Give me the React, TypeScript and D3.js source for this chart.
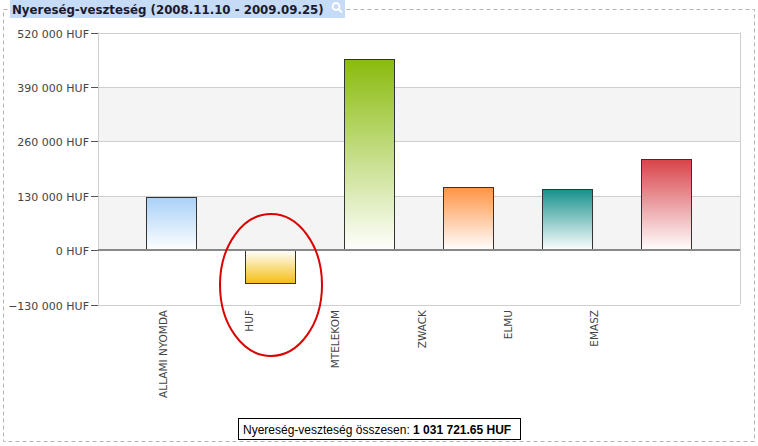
import React, { useEffect, useRef } from 'react';
import * as d3 from 'd3';

const categories = ['ALLAMI NYOMDA', 'HUF', 'MTELEKOM', 'ZWACK', 'ELMU', 'EMASZ'];
const values = [126000, -78500, 457000, 150000, 145000, 217000];
const barColors = ['#a9d1f7', '#f5bd10', '#8abb0e', '#ff9444', '#16918c', '#d8434a'];
const yTicks = [-130000, 0, 130000, 260000, 390000, 520000];
const titleText = 'Nyereség-veszteség (2008.11.10 - 2009.09.25)';
const totalLabel = 'Nyereség-veszteség összesen: ';
const totalValue = '1 031 721.65 HUF';

const W = 758;
const H = 446;

const fmt = (v: number) => d3.format(',')(v).replace(/,/g, ' ') + ' HUF';

const App: React.FC = () => {
  const svgRef = useRef<SVGSVGElement | null>(null);

  useEffect(() => {
    if (!svgRef.current) return;
    const svg = d3.select(svgRef.current);
    svg.selectAll('*').remove();

    const plot = { left: 98, right: 740, top: 32.5, bottom: 304.5 };

    const y = d3.scaleLinear().domain([-130000, 520000]).range([plot.bottom, plot.top]);
    // bars and labels are not aligned in the original, so two scales
    const x = d3.scaleBand<string>().domain(categories).range([121.5, 715.5]).paddingInner(0.495).paddingOuter(0.2475);
    const xl = d3.scalePoint<string>().domain(categories).range([163, 594]);

    // outer dashed frame
    svg.append('rect')
      .attr('x', 3.5).attr('y', 9.5).attr('width', 751).attr('height', 432)
      .attr('fill', 'none').attr('stroke', '#b4b4b4').attr('stroke-dasharray', '4,3');

    // title legend
    svg.append('rect').attr('x', 10).attr('y', 0).attr('width', 335).attr('height', 18).attr('fill', '#c6dbf5');
    svg.append('text')
      .attr('x', 12).attr('y', 14)
      .attr('font-family', 'DejaVu Sans').attr('font-weight', 'bold').attr('font-size', 11.8)
      .attr('fill', '#1a1a2e').text(titleText);
    const mag = svg.append('g').attr('transform', 'translate(336,6.5)');
    mag.append('circle').attr('r', 3.5).attr('fill', 'none').attr('stroke', '#ffffff').attr('stroke-width', 1.8);
    mag.append('line').attr('x1', 2.5).attr('y1', 2.5).attr('x2', 6).attr('y2', 6).attr('stroke', '#ffffff').attr('stroke-width', 2);

    // grey bands
    [[260000, 390000], [0, 130000]].forEach(([a, b]) => {
      svg.append('rect')
        .attr('x', plot.left).attr('y', y(b)).attr('width', plot.right - plot.left).attr('height', y(a) - y(b))
        .attr('fill', '#f4f4f4');
    });

    // gridlines + ticks + labels
    yTicks.forEach((t) => {
      const yy = Math.round(y(t)) + 0.5;
      if (t !== 0) {
        svg.append('line').attr('x1', plot.left).attr('x2', plot.right).attr('y1', yy).attr('y2', yy)
          .attr('stroke', '#cfcfcf');
      }
      svg.append('line').attr('x1', 91).attr('x2', plot.left).attr('y1', yy).attr('y2', yy).attr('stroke', '#555');
      svg.append('text')
        .attr('x', 89).attr('y', yy + 4).attr('text-anchor', 'end')
        .attr('font-family', 'DejaVu Sans').attr('font-size', 11).attr('fill', '#444')
        .text(fmt(t));
    });
    svg.append('line').attr('x1', plot.left + 0.5).attr('x2', plot.left + 0.5).attr('y1', plot.top).attr('y2', plot.bottom)
      .attr('stroke', '#cfcfcf');
    svg.append('line').attr('x1', plot.right + 0.5).attr('x2', plot.right + 0.5).attr('y1', plot.top).attr('y2', plot.bottom)
      .attr('stroke', '#cfcfcf');

    // gradients
    const defs = svg.append('defs');
    values.forEach((v, i) => {
      const g = defs.append('linearGradient').attr('id', `grad${i}`).attr('x1', 0).attr('y1', 0).attr('x2', 0).attr('y2', 1);
      const c0 = v >= 0 ? barColors[i] : '#ffffff';
      const c1 = v >= 0 ? '#ffffff' : barColors[i];
      g.append('stop').attr('offset', '0%').attr('stop-color', c0);
      g.append('stop').attr('offset', '100%').attr('stop-color', c1);
    });

    // bars
    svg.selectAll('.bar')
      .data(values)
      .enter()
      .append('rect')
      .attr('class', 'bar')
      .attr('x', (_, i) => Math.round(x(categories[i])!) + 0.5)
      .attr('y', (d) => Math.round(y(Math.max(0, d))) + 0.5)
      .attr('width', Math.round(x.bandwidth()))
      .attr('height', (d) => Math.abs(Math.round(y(d)) - Math.round(y(0))))
      .attr('fill', (_, i) => `url(#grad${i})`)
      .attr('stroke', '#333')
      .attr('stroke-width', 1);

    // zero line
    svg.append('line').attr('x1', plot.left).attr('x2', plot.right).attr('y1', y(0)).attr('y2', y(0))
      .attr('stroke', '#888').attr('stroke-width', 2);

    // category labels
    categories.forEach((c) => {
      svg.append('text')
        .attr('transform', `translate(${xl(c)! + 4},310) rotate(-90)`)
        .attr('text-anchor', 'end')
        .attr('font-family', 'DejaVu Sans').attr('font-size', 10.5).attr('fill', '#444')
        .text(c);
    });

    // highlight ellipse
    svg.append('ellipse')
      .attr('cx', x('HUF')! + x.bandwidth() / 2 + 1).attr('cy', 285).attr('rx', 51).attr('ry', 71)
      .attr('fill', 'none').attr('stroke', '#dd0000').attr('stroke-width', 2);

    // total box
    svg.append('rect').attr('x', 238.5).attr('y', 418.5).attr('width', 282).attr('height', 21)
      .attr('fill', '#fff').attr('stroke', '#000');
    const t = svg.append('text').attr('x', 243).attr('y', 434)
      .attr('font-family', 'Liberation Sans').attr('font-size', 12).attr('fill', '#000');
    t.append('tspan').text(totalLabel);
    t.append('tspan').attr('font-weight', 'bold').text(totalValue);
  }, []);

  return (
    <svg
      ref={svgRef}
      width={W}
      height={H}
      style={{ position: 'absolute', left: 0, top: 0, background: '#fff' }}
    />
  );
};

export default App;
